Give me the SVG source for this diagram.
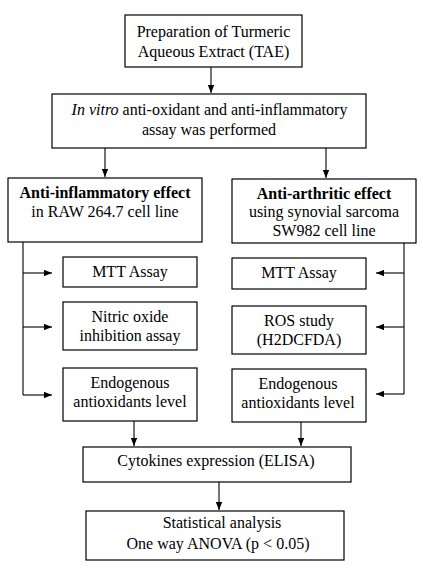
<svg xmlns="http://www.w3.org/2000/svg" width="423" height="568" viewBox="0 0 423 568">
<style>
.b{fill:#fff;stroke:#000;stroke-width:1.2}
.c{stroke:#000;stroke-width:1.1;fill:none}
</style>
<defs>
<marker id="ah" viewBox="0 0 10 8" refX="10" refY="4" markerWidth="8" markerHeight="6.5" markerUnits="userSpaceOnUse" orient="auto">
<path d="M0,0L10,4L0,8z" fill="#000"/>
</marker>
</defs>
<rect width="423" height="568" fill="#fff"/>
<g id="connectors">
<line class="c" x1="211" y1="67" x2="211" y2="93" marker-end="url(#ah)"/>
<line class="c" x1="105" y1="148" x2="105" y2="177" marker-end="url(#ah)"/>
<line class="c" x1="326" y1="148" x2="326" y2="178" marker-end="url(#ah)"/>
<polyline class="c" points="23,242 23,395"/>
<line class="c" x1="23" y1="273" x2="52" y2="273" marker-end="url(#ah)"/>
<line class="c" x1="23" y1="327" x2="52" y2="327" marker-end="url(#ah)"/>
<line class="c" x1="23" y1="395" x2="52" y2="395" marker-end="url(#ah)"/>
<polyline class="c" points="404,243 404,394"/>
<line class="c" x1="404" y1="273" x2="376" y2="273" marker-end="url(#ah)"/>
<line class="c" x1="404" y1="327" x2="376" y2="327" marker-end="url(#ah)"/>
<line class="c" x1="404" y1="394" x2="376" y2="394" marker-end="url(#ah)"/>
<line class="c" x1="134" y1="421" x2="134" y2="446" marker-end="url(#ah)"/>
<line class="c" x1="301" y1="422" x2="301" y2="446" marker-end="url(#ah)"/>
<line class="c" x1="219" y1="482" x2="219" y2="510" marker-end="url(#ah)"/>
</g>
<g font-family="Liberation Serif" font-size="16" text-anchor="middle" fill="#000">
<g id="n1"><rect class="b" x="125" y="15" width="177" height="52"/>
<text x="213.5" y="37">Preparation of Turmeric</text><text x="213.5" y="57">Aqueous Extract (TAE)</text></g>
<g id="n2"><rect class="b" x="52" y="94" width="314" height="54"/>
<text x="209.5" y="115"><tspan font-style="italic">In vitro</tspan> anti-oxidant and anti-inflammatory</text><text x="209" y="135">assay was performed</text></g>
<g id="n3"><rect class="b" x="8" y="178" width="194" height="64"/>
<text x="105" y="198" font-weight="bold">Anti-inflammatory effect</text><text x="105" y="217">in RAW 264.7 cell line</text></g>
<g id="n4"><rect class="b" x="232" y="179" width="184" height="64"/>
<text x="324" y="199" font-weight="bold">Anti-arthritic effect</text><text x="324" y="217">using synovial sarcoma</text><text x="324" y="236">SW982 cell line</text></g>
<g id="n5"><rect class="b" x="63" y="257" width="134" height="30"/><text x="130" y="277">MTT Assay</text></g>
<g id="n6"><rect class="b" x="63" y="302" width="134" height="48"/><text x="130" y="322">Nitric oxide</text><text x="130" y="341">inhibition assay</text></g>
<g id="n7"><rect class="b" x="63" y="368" width="134" height="53"/><text x="130" y="388">Endogenous</text><text x="130" y="407">antioxidants level</text></g>
<g id="n8"><rect class="b" x="232" y="258" width="134" height="31"/><text x="299" y="278">MTT Assay</text></g>
<g id="n9"><rect class="b" x="232" y="306" width="134" height="48"/><text x="299" y="326">ROS study</text><text x="299" y="345">(H2DCFDA)</text></g>
<g id="n10"><rect class="b" x="232" y="369" width="134" height="53"/><text x="298" y="389">Endogenous</text><text x="298" y="408">antioxidants level</text></g>
<g id="n11"><rect class="b" x="83" y="447" width="268" height="35"/><text x="216" y="466">Cytokines expression (ELISA)</text></g>
<g id="n12"><rect class="b" x="86" y="511" width="258" height="49"/><text x="222" y="528">Statistical analysis</text><text x="218" y="549">One way ANOVA (p &lt; 0.05)</text></g>
</g>
</svg>
